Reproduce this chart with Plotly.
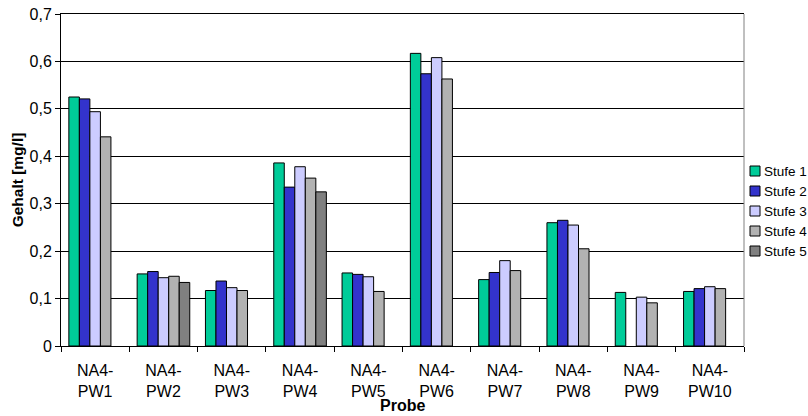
import plotly.graph_objects as go

# Samples (Probe) and measured content per extraction stage
categories = ["NA4-<br>PW1", "NA4-<br>PW2", "NA4-<br>PW3", "NA4-<br>PW4", "NA4-<br>PW5",
              "NA4-<br>PW6", "NA4-<br>PW7", "NA4-<br>PW8", "NA4-<br>PW9", "NA4-<br>PW10"]

stufe_1 = [0.525, 0.152, 0.117, 0.386, 0.154, 0.617, 0.140, 0.260, 0.113, 0.115]
stufe_2 = [0.521, 0.157, 0.137, 0.335, 0.151, 0.574, 0.155, 0.265, None, 0.121]
stufe_3 = [0.494, 0.144, 0.123, 0.378, 0.146, 0.608, 0.180, 0.255, 0.103, 0.125]
stufe_4 = [0.441, 0.147, 0.117, 0.354, 0.115, 0.563, 0.159, 0.205, 0.091, 0.121]
stufe_5 = [None, 0.134, None, 0.325, None, None, None, None, None, None]

series_names = ["Stufe 1", "Stufe 2", "Stufe 3", "Stufe 4", "Stufe 5"]
series_values = [stufe_1, stufe_2, stufe_3, stufe_4, stufe_5]
series_colors = ["#00CC99", "#3333CC", "#CCCCFF", "#B2B2B2", "#808080"]

y_tick_vals = [0, 0.1, 0.2, 0.3, 0.4, 0.5, 0.6, 0.7]
y_tick_text = ["0", "0,1", "0,2", "0,3", "0,4", "0,5", "0,6", "0,7"]

FONT = "Arial"

fig = go.Figure()
for name, vals, col in zip(series_names, series_values, series_colors):
    fig.add_trace(go.Bar(
        x=categories, y=vals, name=name,
        marker=dict(color=col, line=dict(color="#000000", width=1)),
        showlegend=False,
    ))

# Legend drawn beside the plot area: small squares plus labels
shapes = []
annotations = []
for i, (name, col) in enumerate(zip(series_names, series_colors)):
    dy = 157 + 20 * i  # pixel offset below the top of the plot area
    shapes.append(dict(
        type="rect", xref="paper", yref="paper",
        xsizemode="pixel", ysizemode="pixel", xanchor=1, yanchor=1,
        x0=6, x1=16, y0=-dy + 5, y1=-dy - 5,
        fillcolor=col, line=dict(color="#000000", width=1),
    ))
    annotations.append(dict(
        xref="paper", yref="paper", x=1, y=1,
        xshift=18, yshift=-dy,
        xanchor="left", yanchor="middle", showarrow=False,
        text=name, font=dict(family=FONT, size=13.5, color="#000000"),
    ))

# X axis title placed just under the two-line category labels
annotations.append(dict(
    xref="paper", yref="paper", x=0.5, y=0, yshift=-59,
    xanchor="center", yanchor="middle", showarrow=False,
    text="<b>Probe</b>", font=dict(family=FONT, size=16, color="#000000"),
))

# Right border of the plot frame (grey)
shapes.append(dict(type="line", xref="paper", yref="paper", x0=1, x1=1, y0=0, y1=1,
                   line=dict(color="#808080", width=1)))

fig.update_layout(
    width=808, height=416,
    margin=dict(l=61, r=64, t=14, b=70, autoexpand=False),
    paper_bgcolor="#FFFFFF", plot_bgcolor="#FFFFFF",
    barmode="group", bargap=0.23, bargroupgap=0,
    font=dict(family=FONT, size=16, color="#000000"),
    shapes=shapes, annotations=annotations,
    xaxis=dict(
        automargin=False,
        showline=True, linecolor="#000000", linewidth=1, mirror=True,
        ticks="outside", ticklen=5, tickcolor="#000000", tickson="boundaries",
        ticklabelstandoff=10,
        tickfont=dict(family=FONT, size=16, color="#000000"),
        showgrid=False,
    ),
    yaxis=dict(
        automargin=False,
        range=[0, 0.7], tickvals=y_tick_vals, ticktext=y_tick_text,
        showline=True, linecolor="#000000", linewidth=1,
        ticks="outside", ticklen=5, tickcolor="#000000",
        tickfont=dict(family=FONT, size=16, color="#000000"),
        showgrid=True, gridcolor="#000000", gridwidth=1,
        zeroline=False,
        title=dict(text="<b>Gehalt [mg/l]</b>", font=dict(family=FONT, size=15.5), standoff=2),
    ),
)

fig.write_html("out.html")
